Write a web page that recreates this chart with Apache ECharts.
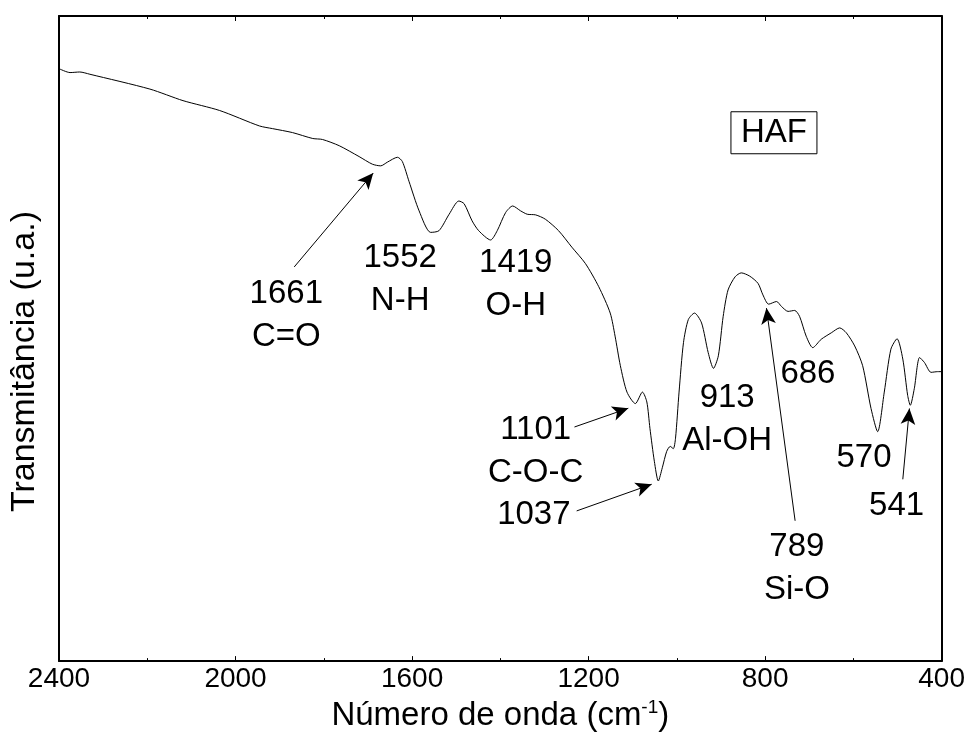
<!DOCTYPE html>
<html>
<head>
<meta charset="utf-8">
<script src="https://cdn.jsdelivr.net/npm/echarts@6/dist/echarts.min.js"></script>
<style>html,body{margin:0;padding:0;background:#fff}#c{width:968px;height:737px}</style>
</head>
<body>
<div id="c"></div>
<script>
// Spectrum (wavenumber in cm-1, transmittance in a.u.)
var wavenumber = [2400,2375,2353,2330,2194,2119,2036,1946,1916,1871,1825,1803,1765,1720,1690,1671,1656,1633,1622,1607,1584,1558,1539,1516,1494,1482,1464,1449,1422,1407,1388,1372,1354,1339,1320,1298,1268,1238,1207,1177,1151,1140,1128,1113,1094,1078,1068,1061,1051,1042,1033,1023,1015,1008,1003,995,985,974,960,944,929,917,906,895,884,868,854,835,816,805,792,774,763,748,733,722,707,692,673,650,631,616,597,579,560,545,530,515,501,488,477,471,462,450,439,424,409,400];
var transmittance = [91.84,91.23,91.32,90.97,88.67,86.88,85.35,82.96,82.54,81.93,81.01,80.86,79.89,78.21,77.03,76.77,77.34,78.10,77.44,74.38,69.79,66.46,66.72,69.27,71.32,70.90,68.25,66.72,65.28,66.72,69.53,70.55,69.79,69.27,69.17,68.50,66.72,64.17,61.61,58.04,53.95,50.38,45.79,41.70,39.92,41.70,40.17,36.09,30.98,27.92,29.97,32.51,33.28,32.93,34.56,41.70,49.36,52.94,53.95,52.42,47.83,45.38,47.32,53.45,57.53,59.57,60.18,59.68,58.55,56.77,55.33,55.74,54.98,54.21,54.36,53.45,50.38,48.59,49.88,50.89,51.65,50.89,48.85,45.79,39.16,35.57,41.70,48.35,49.97,46.82,41.19,39.66,42.22,47.06,46.29,44.76,44.87,44.87];

// Tick labels
var xTicks = [2400,2000,1600,1200,800,400];

// Annotation labels: position (wavenumber, transmittance) and text
var labelX = [1885,1627,1365,1320,1324,886,703,576,502,728];
var labelY = [53.55,59.15,58.35,32.45,22.65,37.5,44.55,31.55,24.1,14.3];
var labelText = ['1661\nC=O','1552\nN-H','1419\nO-H','1101\nC-O-C','1037','913\nAl-OH','686','570','541','789\nSi-O'];

// Arrows: from (x,y) to (x,y)
var arrowFromX = [1867,1232,1227,732,488];
var arrowFromY = [61.10,36.29,23.28,21.75,28.18];
var arrowToX = [1688,1110,1057,797,473];
var arrowToY = [75.65,39.20,27.41,54.72,39.16];

// Sample label
var sampleName = 'HAF';
var samplePos = [780, 81.9];

var FONT = 'Liberation Sans, Arial, sans-serif';
var seriesData = wavenumber.map(function(w,i){return [w, transmittance[i]];});
var arrows = arrowFromX.map(function(x,i){
  return [{coord:[x, arrowFromY[i]]},{coord:[arrowToX[i], arrowToY[i]]}];
});
var labels = labelX.map(function(x,i){
  return {name: labelText[i], coord:[x, labelY[i]]};
});
labels.push({name: sampleName, coord: samplePos, label:{
  borderColor:'#000', borderWidth:1, padding:[4,10,4,10], lineHeight:34
}});

var chart = echarts.init(document.getElementById('c'), null, {renderer:'canvas'});
var axisCommon = {
  type:'value', min:400, max:2400, interval:400, inverse:true,
  axisLine:{show:true, onZero:false, lineStyle:{color:'#000', width:2}},
  axisTick:{show:true, inside:true, length:5, lineStyle:{color:'#000', width:1}},
  minorTick:{show:true, splitNumber:2, length:3, lineStyle:{color:'#000', width:1}},
  splitLine:{show:false}
};
chart.setOption({
  animation:false,
  backgroundColor:'#fff',
  grid:{left:59, right:24, top:16, bottom:68},
  xAxis:[
    Object.assign({}, axisCommon, {
      position:'bottom',
      axisLabel:{show:true, margin:4, color:'#000', fontSize:28, fontFamily:FONT,
        formatter:function(v){return xTicks.indexOf(v)>=0 ? String(v) : '';}},
      name:'Número de onda (cm{sup|-1})',
      nameLocation:'middle', nameGap:35,
      nameTextStyle:{color:'#000', fontSize:33, fontFamily:FONT,
        rich:{sup:{fontSize:19, fontFamily:FONT, color:'#000', verticalAlign:'top', padding:[0,0,16,0]}}}
    }),
    Object.assign({}, axisCommon, {position:'top', axisLabel:{show:false}})
  ],
  yAxis:[
    {type:'value', min:0, max:100, position:'left',
     axisLine:{show:true, lineStyle:{color:'#000', width:2}},
     axisTick:{show:false}, axisLabel:{show:false}, splitLine:{show:false},
     name:'Transmitância (u.a.)', nameLocation:'middle', nameGap:17,
     nameTextStyle:{color:'#000', fontSize:34, fontFamily:FONT, padding:[0,46,0,0]}},
    {type:'value', min:0, max:100, position:'right',
     axisLine:{show:true, lineStyle:{color:'#000', width:2}},
     axisTick:{show:false}, axisLabel:{show:false}, splitLine:{show:false}}
  ],
  series:[{
    type:'line', data:seriesData, smooth:0.25, showSymbol:false, silent:true,
    lineStyle:{color:'#000', width:1},
    markLine:{
      silent:true, animation:false,
      symbol:['none','arrow'], symbolSize:[11,16],
      lineStyle:{color:'#000', width:1, type:'solid'},
      label:{show:false},
      emphasis:{disabled:true},
      data:arrows
    },
    markPoint:{
      silent:true, animation:false,
      symbol:'circle', symbolSize:0,
      itemStyle:{color:'rgba(0,0,0,0)'},
      label:{show:true, position:'inside', formatter:'{b}', color:'#000',
        fontSize:33, lineHeight:43, fontFamily:FONT, align:'center', verticalAlign:'middle'},
      data:labels
    }
  }]
});
</script>
</body>
</html>
